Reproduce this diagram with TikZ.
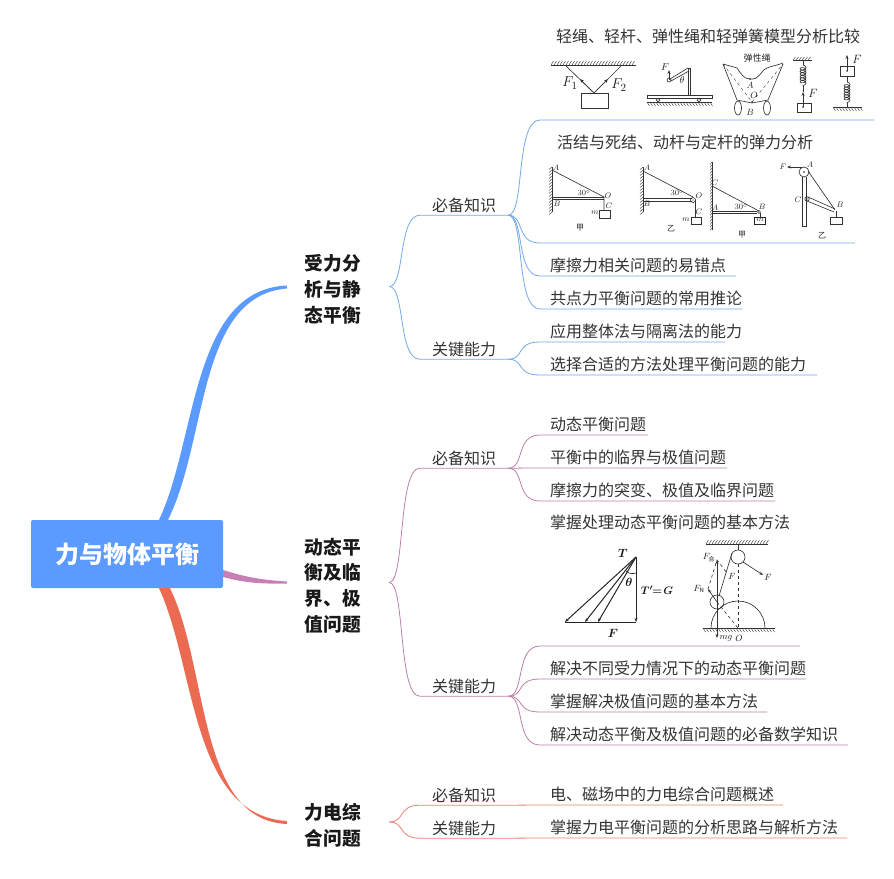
\documentclass[tikz,border=0pt]{standalone}
\usepackage{amsmath}
\usepackage{bm}
\usepackage{fontspec}
\setmainfont{Noto Sans CJK SC}
\usepackage{tikz}
\usetikzlibrary{arrows.meta, calc, decorations.pathmorphing}
\definecolor{rootblue}{HTML}{5B9BFF}
\definecolor{linkblue}{HTML}{74A8EA}
\definecolor{branchpurple}{HTML}{C77FB4}
\definecolor{linkpurple}{HTML}{BC80A8}
\definecolor{branchred}{HTML}{EC6A52}
\definecolor{linkred}{HTML}{E8836F}
\definecolor{inkgrey}{HTML}{333333}
\newcommand{\hatchbar}[4]{% x1, x2, y, rise of the hatch
	\draw[fig] (#1,#3) -- (#2,#3);
	\foreach \hx in {#1,\the\numexpr#1+3\relax,...,\the\numexpr#2-2\relax} {
		\draw[fig, line width=.4pt] (\hx,#3) -- ++(2.5,#4);
	}
}
\newcommand{\hatchwall}[4]{% x, y1, y2, run of the hatch
	\draw[fig] (#1,#2) -- (#1,#3);
	\foreach \hy in {#2,\the\numexpr#2+3\relax,...,#3} {
		\draw[fig, line width=.4pt] (#1,\hy) -- ++(#4,2.5);
	}
}
\begin{document}
\begin{tikzpicture}[x=1pt, y=-1pt,
		rootbox/.style={fill=rootblue, rounded corners=2pt, text=white,
			minimum width=192pt, minimum height=68pt, inner sep=0pt,
			font=\fontsize{24}{24}\selectfont\bfseries},
		topic/.style={align=center, inner xsep=18pt, inner ysep=0pt,
			font=\fontsize{18.7}{25.8}\selectfont\bfseries, text=black!90},
		sublbl/.style={minimum width=88pt, minimum height=20pt, inner sep=0pt,
			font=\fontsize{16}{16}\selectfont, text=inkgrey},
		leaf/.style={anchor=south west, inner xsep=10pt, inner ysep=0pt,
			minimum height=20pt, font=\fontsize{16}{16}\selectfont, text=inkgrey},
		link/.style={line width=.8pt},
		fig/.style={line width=.65pt, black!80},
		fthick/.style={line width=1pt, black!85},
		arr/.style={-{Stealth[length=4pt, width=3pt]}},
		flbl/.style={inner sep=0pt, black!90, font=\fontsize{10}{10}\selectfont},
		fsmall/.style={inner sep=0pt, black!85, font=\fontsize{8}{8}\selectfont},
		coil/.style={fig, decorate, decoration={coil, aspect=.6,
			segment length=2.6pt, amplitude=3pt}},
		]
		\useasboundingbox (0,0) rectangle (894,878);

		% Root and topics
		\node[rootbox] (root) at (127,554) {\raisebox{-3pt}{力与物体平衡}};
		\node[topic] (t1) at (333,289.5) {受力分\\析与静\\态平衡};
		\node[topic] (t2) at (333,585.5) {动态平\\衡及临\\界、极\\值问题};
		\node[topic] (t3) at (333,825) {力电综\\合问题};

		\foreach \i in {1,2,3} {
			\coordinate (j\i) at ([yshift=4pt]t\i.west);
			\coordinate (h\i) at ([xshift=10pt, yshift=3pt]t\i.east);
		}

		% Main branches
		\fill[rootblue] ($(root.north)+(32,0)$) .. controls (197,440) and (191,290) .. (j1)
			-- ++(0,3) .. controls (197,296) and (208,440) .. ($(root.north)+(41,0)$) -- cycle;
		\fill[branchpurple] (root.east |- 0,570) .. controls (245,577) and (262,580) .. (j2)
			-- ++(0,2) .. controls (262,584) and (245,583) .. (root.east |- 0,577) -- cycle;
		\fill[branchred] ($(root.south)+(32,0)$) .. controls (196,668) and (191,815) .. (j3)
			-- ++(0,3) .. controls (197,820) and (209,668) .. ($(root.south)+(43,0)$) -- cycle;

		% Second level
		\node[sublbl] (k1) at (464,205) {必备知识};
		\node[sublbl] (k2) at (464,349) {关键能力};
		\node[sublbl] (k3) at (464,458) {必备知识};
		\node[sublbl] (k4) at (464,686) {关键能力};
		\node[sublbl] (k5) at (464,795) {必备知识};
		\node[sublbl] (k6) at (464,828) {关键能力};

		\foreach \h/\k/\c in {h1/k1/linkblue, h1/k2/linkblue, h2/k3/linkpurple,
				h2/k4/linkpurple, h3/k5/linkred, h3/k6/linkred} {
			\draw[link, \c] (\h) .. controls +(16,0) and +(-22,0) .. (\k.south west)
				-- (\k.south east);
		}

		% Leaves under blue
		\foreach \y/\xe/\h/\txt in {276/736/k1/摩擦力相关问题的易错点,
				309/742/k1/共点力平衡问题的常用推论,
				342/725/k2/应用整体法与隔离法的能力,
				375/817/k2/选择合适的方法处理平衡问题的能力} {
			\node[leaf] (l\y) at (540,\y) {\txt};
			\coordinate (e\y) at (\xe,\y);
			\draw[link, linkblue] (\h.south east) .. controls +(17,0) and +(-25,0) .. (l\y.south west) -- (e\y);
		}
		\node[leaf] (l120) at (546,47) {轻绳、轻杆、弹性绳和轻弹簧模型分析比较};
		\node[leaf] (l243) at (547,153) {活结与死结、动杆与定杆的弹力分析};
		\foreach \y/\xe in {120/874, 243/855} {
			\coordinate (s\y) at (540,\y);
			\coordinate (e\y) at (\xe,\y);
			\draw[link, linkblue] (k1.south east) .. controls +(17,0) and +(-25,0) .. (s\y) -- (e\y);
		}

		% Leaves under purple
		\foreach \y/\xe/\h/\txt in {435/648/k3/动态平衡问题,
				468/727/k3/平衡中的临界与极值问题,
				501/775/k3/摩擦力的突变、极值及临界问题,
				679/806/k4/解决不同受力情况下的动态平衡问题,
				712/767/k4/掌握解决极值问题的基本方法,
				745/848/k4/解决动态平衡及极值问题的必备数学知识} {
			\node[leaf] (l\y) at (540,\y) {\txt};
			\coordinate (e\y) at (\xe,\y);
			\draw[link, linkpurple] (\h.south east) .. controls +(17,0) and +(-25,0) .. (l\y.south west) -- (e\y);
		}
		\node[leaf] (l646) at (540,533) {掌握处理动态平衡问题的基本方法};
		\coordinate (s646) at (540,646);
		\coordinate (e646) at (800,646);
		\draw[link, linkpurple] (k4.south east) .. controls +(17,0) and +(-25,0) .. (s646) -- (e646);

		% Leaves under red
		\node[leaf] (l805) at (540,805) {电、磁场中的力电综合问题概述};
		\node[leaf] (l838) at (540,838) {掌握力电平衡问题的分析思路与解析方法};
		\coordinate (e805) at (783,805);
		\coordinate (e838) at (847,838);
		\draw[link, linkred] (k5.south east) -- (l805.south west) -- (e805);
		\draw[link, linkred] (k6.south east) -- (l838.south west) -- (e838);

		% Figure row 1: ropes
		\hatchbar{551}{636}{65}{-4}
		\draw[fig] (565,65) -- (594,93) -- (622,65);
		\draw[fig, arr] (594,93) -- (580,79);
		\draw[fig, arr] (594,93) -- (608,79);
		\draw[fig] (581,93) rectangle (608,108);
		\node[flbl, font=\fontsize{15}{15}\selectfont] (f1) at (570,83) {$F_1$};
		\node[flbl, font=\fontsize{15}{15}\selectfont] (f2) at (619,85) {$F_2$};

		% Figure row 1: rod on the cart
		\draw[fig] (647,95) rectangle (712,98);
		\hatchbar{647}{712}{102}{4}
		\draw[fig] (658,100) circle (1.8) (699,100) circle (1.8);
		\draw[fig] (688,68) rectangle (690,95);
		\draw[fig] (688,68) -- (670,79) (689,71) -- (671,81);
		\draw[fig] (669,80) circle (2);
		\draw[fig, arr] (669,80) -- (669,70);
		\node[flbl] (f3) at (665,67) {$F$};
		\node[flbl] (f4) at (682,80) {$\theta$};

		% Figure row 1: elastic cord
		\draw[fig] (723,64) .. controls (730,66) and (734,67) .. (737,68)
			.. controls (741,74) and (744,79) .. (750,79)
			.. controls (760,80) and (760,71) .. (767,68) .. controls (772,66) and (778,65) .. (783,63);
		\draw[fig] (723,64) -- (737,100) -- (752,103) -- (768,100) -- (783,64);
		\draw[fig, dashed, line width=.4pt] (723,64) -- (752,102) -- (783,64);
		\draw[fig] (738,108) ellipse (3.5 and 7) (767,108) ellipse (3.5 and 7);
		\fill[black!85] (750,79) circle (.8) (752,102) circle (1);
		\node[fsmall, font=\fontsize{9}{9}\selectfont, fill=white, inner xsep=1pt] (f5) at (757,58) {弹性绳};
		\node[fsmall, font=\fontsize{9}{9}\selectfont] (f6) at (750,85) {$A$};
		\node[fsmall, font=\fontsize{9}{9}\selectfont] (f7) at (754,95) {$O$};
		\node[fsmall, font=\fontsize{9}{9}\selectfont] (f8) at (750,112) {$B$};

		% Figure row 1: springs
		\hatchbar{793}{812}{60}{-3}
		\draw[fig] (803,60) -- (803,65);
		\draw[coil] (803,65) -- (803,86);
		\draw[fig] (803,86) -- (803,92);
		\draw[fig, arr] (803,107) -- (803,92);
		\draw[fig] (797,103) rectangle (811,112);
		\fill[black!85] (803,107) circle (.8);
		\node[flbl, font=\fontsize{13}{13}\selectfont] (f9) at (813,93) {$F$};
		\draw[fig] (840,66) rectangle (854,76);
		\fill[black!85] (847,71) circle (.8);
		\draw[fig, arr] (847,71) -- (847,55);
		\node[flbl, font=\fontsize{13}{13}\selectfont] (f10) at (857,59) {$F$};
		\draw[fig] (847,76) -- (847,82);
		\draw[coil] (847,82) -- (847,103);
		\draw[fig] (847,103) -- (847,107);
		\hatchbar{833}{862}{107}{4}

		% Figure row 2: fixed and free knots
		\hatchwall{552}{167}{212}{-3}
		\draw[fig] (552,170) -- (604,197) -- (604,210);
		\draw[fig] (552,197) -- (604,197) (552,199.5) -- (604,199.5);
		\draw[fig] (599,210) rectangle (610,218);
		\hatchwall{643}{167}{212}{-3}
		\draw[fig] (643,171) -- (693,197);
		\draw[fig] (643,198) -- (692,198) (643,201) -- (692,201);
		\draw[fig] (693,200) circle (2.5);
		\fill[black!85] (693,200) circle (.6);
		\draw[fig] (695.5,200) -- (695.5,217);
		\draw[fig] (691,217) rectangle (701,224);
		\hatchwall{712}{162}{230}{-2}
		\draw[fig] (712,186) -- (759,211);
		\draw[fig] (712,211) -- (757,211) (712,213) -- (757,213);
		\draw[fig] (759,212) circle (1.5);
		\draw[fig] (760,213) -- (760,217);
		\draw[fthick] (754,217) rectangle (765,224);
		\draw[fig] (804,172) circle (5);
		\fill[black!85] (804,172) circle (.8);
		\draw[fig] (802,177) -- (802,226) -- (806,226) -- (806,177);
		\draw[fig, arr] (802,167) -- (787,167);
		\draw[fig] (808,171) -- (835,210);
		\draw[fig] (807,199) circle (2.2);
		\fill[black!85] (807,199) circle (.7);
		\draw[fig] (808,197) -- (835,209) (807,201) -- (834,212);
		\draw[fig] (836,211) -- (836,217);
		\draw[fig] (830,217) rectangle (842,224);
		\foreach \n/\x/\y/\s in {1/556/168/$A$, 2/557/204/$B$, 3/584/193/$30^\circ$,
				4/608/196/$O$, 5/609/206/$C$, 6/595/213/$m$, 7/580/228/甲,
				8/647/168/$A$, 9/647/204/$B$, 10/677/193/$30^\circ$, 11/699/196/$O$,
				12/699/212/$C$, 13/686/220/$m$, 14/671/229/乙,
				15/715/183/$C$, 16/715/208/$A$, 17/741/207/$30^\circ$, 18/762/207/$B$,
				19/760/220/$m$, 20/742/235/甲,
				21/783/167/$F$, 22/810/165/$A$, 23/798/200/$C$, 24/840/205/$B$, 25/822/236/乙} {
			\node[fsmall] (q\n) at (\x,\y) {\s};
		}

		% Figure: triangle of forces
		\draw[fthick, arr] (636,557) -- (565,622);
		\draw[fthick, arr] (636,557) -- (585,622);
		\draw[fthick, arr] (636,557) -- (598,622);
		\draw[fthick, arr] (636,557) -- (636,622);
		\draw[fthick] (636,622) -- (565,622);
		\draw[fig] (626,571) .. controls (629,574) and (633,574) .. (636,573);
		\node[flbl, font=\fontsize{13}{13}\selectfont] (g1) at (623,553) {$\bm{T}$};
		\node[flbl, font=\fontsize{13}{13}\selectfont] (g2) at (629,582) {$\bm{\theta}$};
		\node[flbl, font=\fontsize{11}{11}\selectfont] (g3) at (657,590) {$\bm{T'\!\!=\!G}$};
		\node[flbl, font=\fontsize{13}{13}\selectfont] (g4) at (613,633) {$\bm{F}$};

		% Figure: ball on the dome
		\hatchbar{706}{768}{544}{-4}
		\draw[fig] (738,544) -- (738,550);
		\draw[fig] (738,557) circle (7);
		\hatchbar{703}{775}{628}{4}
		\draw[fig] (711,628) arc[start angle=180, end angle=360, radius=27];
		\draw[fig] (717,602) circle (7);
		\draw[fig] (719,596) -- (732,553);
		\draw[fig, arr] (743,562) -- (763,575);
		\draw[fig, arr] (717,602) -- (717,560);
		\draw[fig, arr] (717,602) -- (717,638);
		\draw[fig, arr] (717,602) -- (708,589);
		\draw[fig, dashed] (708,589) -- (717,560) -- (727,573);
		\draw[fig, dashed] (738,564) -- (738,628);
		\draw[fig, dashed] (717,602) -- (738,628);
		\foreach \n/\x/\y/\s in {1/768/577/$F$, 2/709/558/$F_{\text{合}}$, 3/732/576/$F$,
				4/699/589/$F_{\mathrm{N}}$, 5/726/638/$mg$, 6/739/638/$O$} {
			\node[flbl, font=\fontsize{9}{9}\selectfont] (d\n) at (\x,\y) {\s};
		}
	\end{tikzpicture}
\end{document}
